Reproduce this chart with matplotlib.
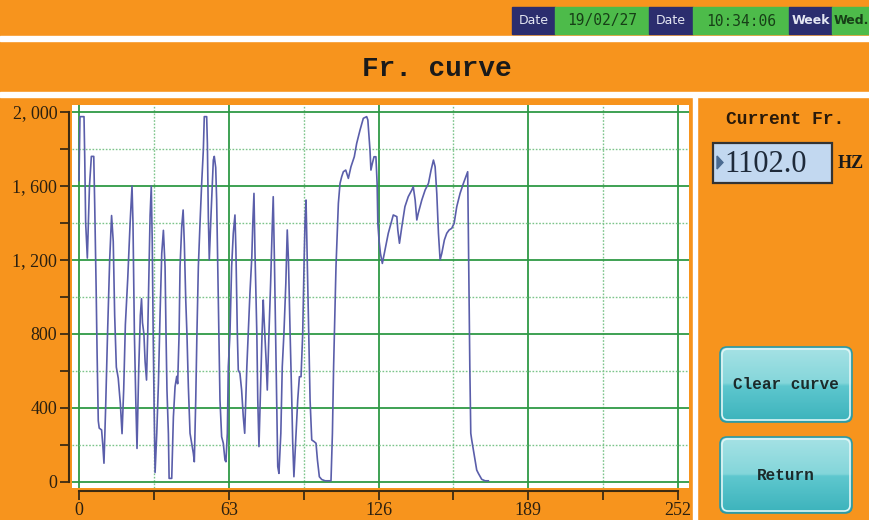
import matplotlib
matplotlib.use('Agg')
import matplotlib.pyplot as plt
import numpy as np
from matplotlib.patches import Rectangle, FancyBboxPatch, Polygon
from matplotlib.colors import LinearSegmentedColormap

ORANGE = '#f7941d'
NAVY = '#2b2d6e'
GREEN = '#4dbb4a'
LINE_COLOR = '#5a5eaa'
AXIS_COLOR = '#3b2a12'

# frequency curve (x = sample, y = Hz)
freq_x = [0.0, 0.4, 2.1, 2.4, 2.8, 3.5, 4.4, 5.2, 6.2, 6.6, 7.2, 7.6, 8.1, 8.5, 9.5, 10.0, 10.5,
          11.2, 12.0, 12.9, 13.7, 14.4, 15.0, 15.7, 16.5, 17.4, 18.1, 18.8, 19.5, 20.5, 21.5, 22.3,
          22.7, 23.3, 23.9, 24.4, 25.1, 25.8, 26.3, 26.7, 27.3, 27.8, 28.4, 28.9, 29.5, 29.9, 30.4,
          30.8, 31.2, 31.6, 32.0,
          32.7, 33.4, 34.1, 34.8, 35.5, 36.2, 36.6, 37.0, 37.6, 37.9, 39.0, 39.7, 40.4, 41.1, 41.5,
          42.1, 42.5, 43.2, 43.8, 44.3, 44.9, 45.4, 46.0, 46.7, 47.4, 48.1, 48.5, 49.1, 49.6, 50.2,
          50.9, 51.6, 52.3, 52.7, 53.7, 54.0, 54.4, 54.8, 55.5, 56.5, 56.9, 57.5, 57.9, 58.6, 59.3,
          60.0, 60.7, 61.4, 61.8, 62.4, 62.8, 63.5, 64.2, 64.9, 65.6, 66.0, 66.6, 67.0, 67.7,
          68.4, 69.1, 69.7, 70.6, 71.2, 71.9, 72.7, 73.1, 73.6, 74.0, 74.8, 75.2, 75.7, 76.4, 77.0,
          77.5, 77.8, 78.3, 78.7, 79.2, 79.9, 80.6, 81.2, 81.7, 82.2, 82.7, 83.2, 83.6, 84.1, 84.9,
          85.5, 86.2, 87.0, 87.6, 88.1, 88.8, 89.5, 89.9, 90.4, 91.3, 92.0, 92.7, 93.4, 94.1, 94.7,
          95.1, 95.5, 96.0, 96.6, 97.2, 97.9, 98.9, 99.7, 100.3, 101.1, 102.1,
          103.5, 106.0, 106.6, 107.1, 108.1, 109.1, 109.8, 110.5, 111.2, 112.2, 113.3, 114.4, 115.8,
          116.8, 118.2, 119.6, 121.0, 121.5, 122.4, 122.8, 123.4, 124.1, 124.9, 125.4, 125.7, 126.2,
          126.8, 127.6, 128.7, 130.1, 131.6, 132.2, 133.7, 134.1, 134.8, 135.8, 137.1, 138.5, 140.0,
          140.6, 141.4, 142.1, 142.7, 144.2, 145.6, 147.0, 148.1, 149.1, 149.8, 150.5, 151.2, 151.9,
          152.6, 153.7, 154.7, 155.7, 156.8, 157.8, 158.9, 160.3, 161.7, 163.5, 163.8, 164.1, 164.4,
          164.8, 165.2, 165.9, 166.6, 167.3, 168.0, 169.4, 170.8, 172.2]
freq_y = [1630, 1975, 1975, 1760, 1400, 1210, 1600, 1760, 1760, 1500, 1050, 700, 330, 290, 280, 200, 100,
          400, 800, 1200, 1440, 1300, 900, 620, 560, 420, 260, 500, 850, 1100, 1400, 1600,
          1400, 800, 430, 180, 600, 900, 990, 860, 800, 650, 550, 800, 1200, 1440, 1600,
          1300, 800, 400, 50,
          260, 530, 910, 1235, 1360, 1163, 800, 496, 260, 18, 18, 350, 514, 570, 530,
          800, 1163, 1380, 1470, 1290, 983, 800, 514, 262, 208, 153, 108, 441, 800, 1163,
          1398, 1614, 1795, 1975, 1975, 1830, 1434, 1200, 1434, 1740, 1760, 1700, 1524, 983, 442,
          243, 208, 117, 108, 262, 622, 800, 1163, 1344, 1443, 1253, 800, 604, 586,
          496, 352, 262, 622, 803, 1019, 1218, 1398, 1560, 1253, 803, 442, 190, 532, 803,
          983, 893, 767, 658, 496, 803, 1073, 1344, 1542, 1200, 803, 442, 82, 45, 262,
          622, 803, 1073, 1362, 1200, 803, 442, 208, 27, 262, 442, 568, 568, 803, 1200,
          1416, 1524, 1200, 803, 442, 226, 217, 208, 117, 27, 12,
          5, 5, 262, 622, 1163, 1506, 1614, 1650, 1677, 1686, 1641, 1704, 1758,
          1830, 1902, 1966, 1975, 1957, 1795, 1686, 1722, 1758, 1758, 1614, 1398, 1308,
          1235, 1181, 1253, 1344, 1416, 1443, 1434, 1362, 1290, 1380, 1488, 1542, 1578,
          1596, 1524, 1416, 1452, 1524, 1578, 1614, 1686, 1740, 1704, 1560, 1344, 1200,
          1235, 1308, 1344, 1362, 1371, 1398, 1488, 1560, 1614, 1677, 1344, 983, 622,
          262, 226, 171, 117, 63, 45, 13, 5, 5]

x_major = [0, 63, 126, 189, 252]
x_minor = [31.5, 94.5, 157.5, 220.5]
y_major = [0, 400, 800, 1200, 1600, 2000]
y_labels = ['0', '400', '800', '1, 200', '1, 600', '2, 000']
y_minor = [200, 600, 1000, 1400, 1800]

status_boxes = [('Date', NAVY), ('19/02/27', GREEN), ('Date', NAVY),
                ('10:34:06', GREEN), ('Week', NAVY), ('Wed.', GREEN)]
status_edges = [512, 555, 649, 693, 789, 832, 870]

title = 'Fr. curve'
current_label = 'Current Fr.'
current_value = '1102.0'
unit = 'HZ'
buttons = ['Clear curve', 'Return']

MONO = 'Liberation Mono'
SERIF = 'Liberation Serif'


def draw_button(bg, x0, y0, w, h, label):
    cmap = LinearSegmentedColormap.from_list(
        'btn', [(0, '#a6e2e5'), (0.48, '#84d6da'), (0.52, '#5ec7ce'), (1, '#3cb3bc')])
    grad = np.linspace(0, 1, 64).reshape(-1, 1)
    shape = FancyBboxPatch((x0, y0), w, h, boxstyle='round,pad=0,rounding_size=7',
                           facecolor='none', edgecolor='#2c98a4', lw=1.2, zorder=3)
    bg.add_patch(shape)
    im = bg.imshow(grad, cmap=cmap, extent=(x0, x0 + w, y0 + h, y0), aspect='auto', zorder=2)
    im.set_clip_path(shape)
    inner = FancyBboxPatch((x0 + 2, y0 + 2), w - 4, h - 4, boxstyle='round,pad=0,rounding_size=6',
                           facecolor='none', edgecolor='#dff5f5', lw=1.2, zorder=3)
    bg.add_patch(inner)
    bg.text(x0 + w / 2, y0 + h / 2, label, ha='center', va='center', fontsize=11.5,
            family=MONO, weight='bold', color='#1c2a2a', zorder=4)


fig = plt.figure(figsize=(8.7, 5.2), dpi=100)
fig.patch.set_facecolor(ORANGE)

# screen background, in pixel units
bg = fig.add_axes([0, 0, 1, 1])
bg.set_facecolor(ORANGE)
bg.add_patch(Rectangle((0, 36), 870, 5, color='white'))
bg.add_patch(Rectangle((0, 92), 870, 5, color='white'))
bg.add_patch(Rectangle((693, 97), 4, 423, color='white'))

for (label, col), left, right in zip(status_boxes, status_edges[:-1], status_edges[1:]):
    bg.add_patch(Rectangle((left, 7), right - left, 27, color=col))
    if col == NAVY:
        bg.text((left + right) / 2, 21, label, ha='center', va='center', fontsize=9,
                family='DejaVu Sans', color='#e4e6f2', weight='bold' if label == 'Week' else 'normal')
    elif label == 'Wed.':
        bg.text((left + right) / 2, 21, label, ha='center', va='center', fontsize=9,
                family='DejaVu Sans', color='#173f17', weight='bold')
    else:
        bg.text((left + right) / 2, 21, label, ha='center', va='center', fontsize=10.5,
                family='DejaVu Sans Mono', color='#173f17')

bg.text(437, 69, title, ha='center', va='center', fontsize=20, family=MONO, weight='bold',
        color='#1a1a1a')

# right panel
bg.text(785, 120, current_label, ha='center', va='center', fontsize=13, family=MONO,
        weight='bold', color='#2a1a0a')
bg.add_patch(Rectangle((713, 143), 119, 40, facecolor='#c2d8f0', edgecolor='#333333', lw=1.6))
bg.add_patch(Polygon([(717, 156), (717, 169), (723, 162.5)], color='#4a6a90'))
bg.text(724, 164, current_value, ha='left', va='center', fontsize=22, family=SERIF, color='#1e2a3a')
bg.text(838, 163, unit, ha='left', va='center', fontsize=13, family=SERIF, weight='bold',
        color='#1a1a1a')

draw_button(bg, 720, 347, 132, 75, buttons[0])
draw_button(bg, 720, 437, 132, 76, buttons[1])

bg.set_xlim(0, 870)
bg.set_ylim(520, 0)
bg.axis('off')

# the curve itself
ax = fig.add_axes([72 / 870, 32 / 520, 617 / 870, 383 / 520])
ax.set_facecolor('white')
ax.plot(freq_x, freq_y, color=LINE_COLOR, lw=1.2)
ax.set_xlim(-2.95, 256.6)
ax.set_ylim(-34, 2038)

ax.set_xticks(x_major)
ax.set_xticks(x_minor, minor=True)
ax.set_yticks(y_major)
ax.set_yticklabels(y_labels)
ax.set_yticks(y_minor, minor=True)
ax.set_axisbelow(True)
ax.grid(which='major', color='#2f9a45', lw=1.3)
ax.grid(which='minor', color='#7cc48a', lw=1.0, ls=(0, (1.2, 1.2)))

for side in ['top', 'right']:
    ax.spines[side].set_visible(False)
ax.spines['left'].set_position(('outward', 2.2))
ax.spines['left'].set_bounds(0, 2000)
ax.spines['bottom'].set_position(('outward', 2.5))
ax.spines['bottom'].set_bounds(0, 252)
for side in ['left', 'bottom']:
    ax.spines[side].set_color(AXIS_COLOR)
    ax.spines[side].set_linewidth(1.5)

ax.tick_params(which='both', length=6.5, width=1.3, color=AXIS_COLOR)
ax.tick_params(axis='y', pad=2)
ax.tick_params(axis='x', pad=1)
for lab in ax.get_xticklabels() + ax.get_yticklabels():
    lab.set_family(SERIF)
    lab.set_fontsize(13)
    lab.set_color('#2b2010')

fig.savefig('out.png', dpi=100, facecolor=ORANGE)
